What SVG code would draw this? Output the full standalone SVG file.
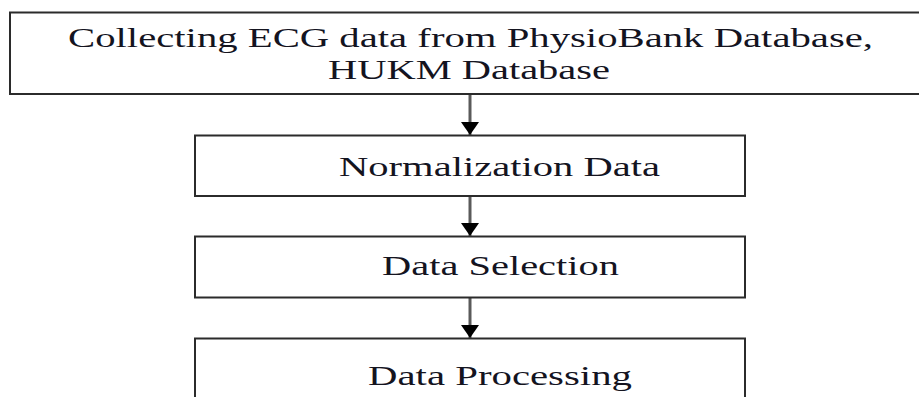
<svg xmlns="http://www.w3.org/2000/svg" width="919" height="397" viewBox="0 0 919 397">
  <style>
    .box { fill: #ffffff; stroke: #2b2b2b; stroke-width: 2; }
    .lbl { font-family: "Liberation Serif", "Times New Roman", serif; font-size: 28px; fill: #14141f; }
    .conn { stroke: #5a5a5a; stroke-width: 3; fill: none; }
  </style>
  <defs>
    <marker id="head" markerUnits="userSpaceOnUse" markerWidth="14" markerHeight="18" refX="13" refY="9" orient="auto">
      <path d="M0,0 L13,9 L0,18 Z" fill="#000000"/>
    </marker>
  </defs>
  <rect width="919" height="397" fill="#ffffff"/>

  <g id="connectors">
    <line class="conn" x1="470" y1="95" x2="470" y2="135" marker-end="url(#head)"/>
    <line class="conn" x1="470" y1="197" x2="470" y2="236" marker-end="url(#head)"/>
    <line class="conn" x1="470" y1="298" x2="470" y2="338" marker-end="url(#head)"/>
  </g>

  <g id="collect">
    <rect class="box" x="10" y="12.5" width="920" height="81.5"/>
    <text class="lbl" x="68" y="46.5" textLength="805" lengthAdjust="spacingAndGlyphs">Collecting ECG data from PhysioBank Database,</text>
    <text class="lbl" x="328" y="78.5" textLength="282" lengthAdjust="spacingAndGlyphs">HUKM Database</text>
  </g>

  <g id="normalize">
    <rect class="box" x="195" y="135.5" width="550" height="60.5"/>
    <text class="lbl" x="339" y="176" textLength="321" lengthAdjust="spacingAndGlyphs">Normalization Data</text>
  </g>

  <g id="select">
    <rect class="box" x="195" y="236.5" width="550" height="61"/>
    <text class="lbl" x="382" y="274.5" textLength="237" lengthAdjust="spacingAndGlyphs">Data Selection</text>
  </g>

  <g id="process">
    <rect class="box" x="195" y="338.5" width="550" height="70"/>
    <text class="lbl" x="368" y="385" textLength="264" lengthAdjust="spacingAndGlyphs">Data Processing</text>
  </g>
</svg>
